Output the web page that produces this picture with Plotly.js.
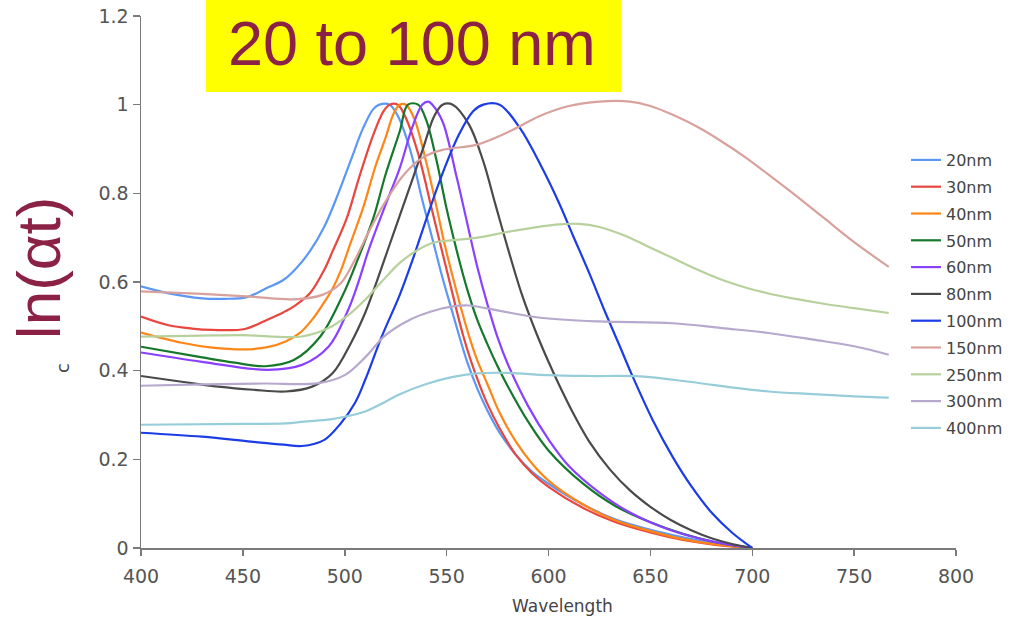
<!DOCTYPE html>
<html>
<head>
<meta charset="utf-8">
<script src="https://cdn.plot.ly/plotly-3.0.1.min.js"></script>
<style>html,body{margin:0;padding:0;background:#fff;}#chart{width:1019px;height:627px;}</style>
</head>
<body>
<div id="chart"></div>
<script>
// ---- data ----
const seriesNames = ['20nm','30nm','40nm','50nm','60nm','80nm','100nm','150nm','250nm','300nm','400nm'];

const wl20 = [400,413,430,441,452,462,470,476,483,490,496,503,509,514,517,522,526,532,538,544,548,552,556,560,565,570,576,584,592,600,617,633,650,666,682,700];
const y20  = [0.59,0.575,0.563,0.562,0.566,0.587,0.605,0.63,0.67,0.725,0.79,0.875,0.947,0.99,1.0,1.0,0.975,0.9,0.786,0.68,0.609,0.545,0.481,0.421,0.36,0.31,0.26,0.21,0.172,0.145,0.098,0.064,0.041,0.024,0.01,0];

const wl30 = [400,413,425,435,451,462,470,476,483,490,494,501,507,514,519,522,526,530,536,543,551,558,562,566,570,576,584,592,600,617,633,650,666,682,700];
const y30  = [0.522,0.503,0.495,0.492,0.494,0.515,0.532,0.548,0.575,0.628,0.669,0.744,0.835,0.932,0.985,1.0,1.0,0.97,0.89,0.759,0.609,0.481,0.421,0.37,0.325,0.27,0.21,0.168,0.138,0.09,0.058,0.035,0.018,0.007,0];

const wl40 = [400,420,435,451,462,471,478,484,490,494,498,503,509,515,520,524,527,530,534,540,545,549,553,557,561,565,570,576,584,592,600,617,633,650,666,682,700];
const y40  = [0.486,0.463,0.452,0.448,0.453,0.466,0.485,0.515,0.555,0.585,0.625,0.69,0.767,0.86,0.925,0.98,1.0,1.0,0.97,0.87,0.77,0.685,0.612,0.542,0.478,0.424,0.37,0.305,0.24,0.19,0.152,0.098,0.062,0.038,0.02,0.008,0];

const wl50 = [400,430,446,461,475,488,499,505,514,520,527,531,536,540,545,550,555,560,565,570,575,580,590,600,617,633,650,666,682,700];
const y50  = [0.454,0.43,0.418,0.41,0.424,0.477,0.57,0.635,0.744,0.842,0.94,1.0,1.0,0.965,0.875,0.765,0.67,0.585,0.515,0.46,0.41,0.365,0.285,0.22,0.145,0.094,0.058,0.032,0.013,0];

const wl60 = [400,430,462,479,492,501,506,512,520,527,533,538,541,543,548,555,560,565,570,575,580,590,600,610,625,640,660,680,700];
const y60  = [0.441,0.42,0.402,0.413,0.454,0.53,0.59,0.676,0.774,0.857,0.947,1.0,1.007,1.0,0.962,0.835,0.735,0.635,0.55,0.475,0.415,0.32,0.245,0.185,0.125,0.08,0.04,0.015,0];

const wl80 = [400,420,438,455,471,484,494,503,510,514,522,530,538,544,548,553,561,568,574,581,587,594,600,605,612,620,630,640,650,660,670,680,690,700];
const y80  = [0.388,0.375,0.364,0.357,0.353,0.364,0.394,0.462,0.53,0.579,0.684,0.789,0.895,0.975,1.0,1.0,0.955,0.872,0.774,0.661,0.571,0.485,0.42,0.37,0.305,0.24,0.178,0.13,0.093,0.063,0.04,0.022,0.009,0];

const wl100 = [400,430,454,470,479,490,498,505,510,518,527,533,541,548,556,563,568,576,586,596,605,612,620,628,635,641,651,661,670,680,690,700];
const y100  = [0.26,0.251,0.24,0.233,0.23,0.244,0.281,0.327,0.379,0.475,0.571,0.646,0.755,0.845,0.932,0.985,1.0,1.0,0.947,0.865,0.78,0.705,0.62,0.53,0.455,0.39,0.29,0.205,0.14,0.08,0.035,0];

const wl150 = [400,430,454,475,489,498,505,512,519,529,538,548,565,581,596,610,625,640,650,661,673,685,697,708,720,735,750,767];
const y150  = [0.579,0.573,0.567,0.561,0.571,0.597,0.65,0.715,0.774,0.842,0.88,0.898,0.91,0.94,0.975,0.997,1.007,1.007,0.997,0.977,0.95,0.917,0.88,0.842,0.8,0.745,0.69,0.634];

const wl250 = [400,430,450,479,492,503,510,518,527,535,543,550,565,581,596,605,615,625,636,648,661,673,685,697,708,720,735,750,767];
const y250  = [0.477,0.479,0.48,0.477,0.496,0.53,0.56,0.6,0.643,0.67,0.688,0.693,0.7,0.714,0.725,0.73,0.731,0.724,0.707,0.682,0.654,0.628,0.605,0.587,0.574,0.563,0.551,0.541,0.53];

const wl300 = [400,430,460,487,500,510,520,532,542,553,561,576,595,625,661,685,708,730,750,767];
const y300  = [0.366,0.369,0.371,0.372,0.39,0.43,0.48,0.515,0.533,0.545,0.547,0.535,0.52,0.511,0.507,0.496,0.485,0.47,0.455,0.436];

const wl400 = [400,450,471,480,493,500,510,520,527,540,552,565,580,600,620,645,669,694,708,730,750,767];
const y400  = [0.278,0.28,0.281,0.285,0.29,0.296,0.308,0.33,0.347,0.37,0.385,0.394,0.395,0.39,0.388,0.387,0.375,0.36,0.353,0.347,0.342,0.339];

const xTicks = [400,450,500,550,600,650,700,750,800];
const yTicks = [0,0.2,0.4,0.6,0.8,1,1.2];
const titleText = '20 to 100 nm';
const yLabelText = 'ln(αt)';
const xLabelText = 'Wavelength';

// ---- styling ----
const colors = ['#5b97f5','#e8463f','#ff8616','#16782b','#8a41ff','#4a4a4a','#1c3ce6','#d8a19c','#b7d19c','#b6a9cd','#97cdd9'];
const xs = [wl20,wl30,wl40,wl50,wl60,wl80,wl100,wl150,wl250,wl300,wl400];
const ys = [y20,y30,y40,y50,y60,y80,y100,y150,y250,y300,y400];

const traces = seriesNames.map((n,i)=>({
  type:'scatter', mode:'lines', name:n, x:xs[i], y:ys[i],
  legendgroup:'g'+i,
  line:{color:colors[i], width:2.2, shape:'spline', smoothing:1}
}));

// pixel -> paper helpers (plot area: x 141..957, y 16..548)
const L=141, R=957, T=16, B=548;
const px = v => (v-L)/(R-L);
const py = v => (B-v)/(B-T);

const tickFont = {family:'DejaVu Sans, Verdana, sans-serif', size:19, color:'#555'};

const layout = {
  width:1019, height:627,
  margin:{l:L, r:1019-R, t:T, b:627-B, pad:0},
  paper_bgcolor:'#fff', plot_bgcolor:'#fff',
  showlegend:true,
  legend:{x:px(906), y:py(143), xanchor:'left', yanchor:'top',
          font:{family:'DejaVu Sans, Verdana, sans-serif', size:16, color:'#444'},
          bgcolor:'rgba(0,0,0,0)', traceorder:'grouped', tracegroupgap:3, itemwidth:30},
  xaxis:{range:[400,800], tickvals:xTicks, ticktext:xTicks.map(String),
         showgrid:false, zeroline:false, showline:true, linecolor:'#7a7a7a', linewidth:1.5,
         ticks:'outside', ticklen:6, tickcolor:'#7a7a7a', tickwidth:1.5, tickfont:tickFont,
         ticklabelstandoff:5},
  yaxis:{range:[0,1.2], tickvals:yTicks, ticktext:yTicks.map(String),
         showgrid:false, zeroline:false, showline:true, linecolor:'#7a7a7a', linewidth:1.5,
         ticks:'outside', ticklen:7, tickcolor:'#7a7a7a', tickwidth:1.5, tickfont:tickFont},
  shapes:[
    {type:'rect', xref:'paper', yref:'paper', x0:px(206), x1:px(622), y0:py(92), y1:py(0),
     fillcolor:'#ffff00', line:{width:0}, layer:'above'}
  ],
  annotations:[
    {xref:'paper', yref:'paper', x:px(412), y:py(43), xanchor:'center', yanchor:'middle',
     text:titleText, showarrow:false,
     font:{family:'Liberation Sans, Arial, sans-serif', size:63, color:'#8b2246'}},
    {xref:'paper', yref:'paper', x:px(38), y:py(268), xanchor:'center', yanchor:'middle',
     text:yLabelText, textangle:-90, showarrow:false, borderpad:0,
     font:{family:'Liberation Sans, Arial, sans-serif', size:62, color:'#8b2246'}},
    {xref:'paper', yref:'paper', x:px(62), y:py(368), xanchor:'center', yanchor:'middle',
     text:'c', textangle:-90, showarrow:false,
     font:{family:'DejaVu Sans, Verdana, sans-serif', size:18, color:'#444'}},
    {xref:'paper', yref:'paper', x:px(563), y:py(606), xanchor:'center', yanchor:'middle',
     text:xLabelText, showarrow:false,
     font:{family:'DejaVu Sans, Verdana, sans-serif', size:17, color:'#444'}}
  ]
};

Plotly.newPlot('chart', traces, layout, {displayModeBar:false, staticPlot:true});
</script>
</body>
</html>
